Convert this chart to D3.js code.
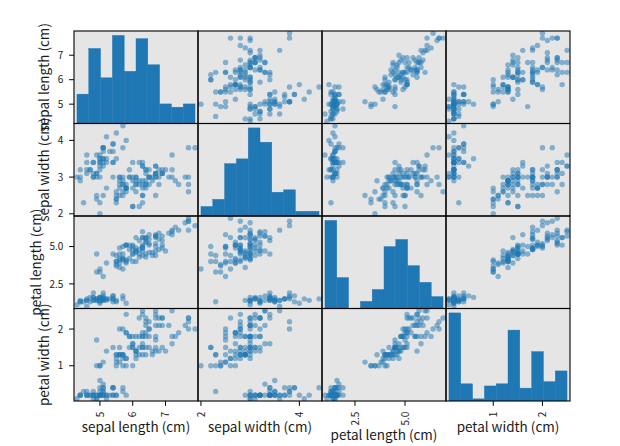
<!DOCTYPE html>
<html>
<head>
<meta charset="UTF-8">
<title>iris scatter matrix</title>
<style>
  body { margin: 0; background: #fff; }
  svg { display: block; }
  text { font-family: "Noto Sans CJK KR", "Noto Sans", sans-serif; fill: #1a1a1a; }
  .tick text { font-size: 10px; }
  .label { font-size: 13.5px; }
</style>
</head>
<body>
<svg width="620" height="446"></svg>
<script src="https://d3js.org/d3.v7.min.js"></script>
<script>
// iris (sklearn version), one array per column
const sepalLength = [
  5.1,4.9,4.7,4.6,5.0,5.4,4.6,5.0,4.4,4.9,5.4,4.8,4.8,4.3,5.8,5.7,5.4,5.1,5.7,5.1,
  5.4,5.1,4.6,5.1,4.8,5.0,5.0,5.2,5.2,4.7,4.8,5.4,5.2,5.5,4.9,5.0,5.5,4.9,4.4,5.1,
  5.0,4.5,4.4,5.0,5.1,4.8,5.1,4.6,5.3,5.0,
  7.0,6.4,6.9,5.5,6.5,5.7,6.3,4.9,6.6,5.2,5.0,5.9,6.0,6.1,5.6,6.7,5.6,5.8,6.2,5.6,
  5.9,6.1,6.3,6.1,6.4,6.6,6.8,6.7,6.0,5.7,5.5,5.5,5.8,6.0,5.4,6.0,6.7,6.3,5.6,5.5,
  5.5,6.1,5.8,5.0,5.6,5.7,5.7,6.2,5.1,5.7,
  6.3,5.8,7.1,6.3,6.5,7.6,4.9,7.3,6.7,7.2,6.5,6.4,6.8,5.7,5.8,6.4,6.5,7.7,7.7,6.0,
  6.9,5.6,7.7,6.3,6.7,7.2,6.2,6.1,6.4,7.2,7.4,7.9,6.4,6.3,6.1,7.7,6.3,6.4,6.0,6.9,
  6.7,6.9,5.8,6.8,6.7,6.7,6.3,6.5,6.2,5.9
];
const sepalWidth = [
  3.5,3.0,3.2,3.1,3.6,3.9,3.4,3.4,2.9,3.1,3.7,3.4,3.0,3.0,4.0,4.4,3.9,3.5,3.8,3.8,
  3.4,3.7,3.6,3.3,3.4,3.0,3.4,3.5,3.4,3.2,3.1,3.4,4.1,4.2,3.1,3.2,3.5,3.6,3.0,3.4,
  3.5,2.3,3.2,3.5,3.8,3.0,3.8,3.2,3.7,3.3,
  3.2,3.2,3.1,2.3,2.8,2.8,3.3,2.4,2.9,2.7,2.0,3.0,2.2,2.9,2.9,3.1,3.0,2.7,2.2,2.5,
  3.2,2.8,2.5,2.8,2.9,3.0,2.8,3.0,2.9,2.6,2.4,2.4,2.7,2.7,3.0,3.4,3.1,2.3,3.0,2.5,
  2.6,3.0,2.6,2.3,2.7,3.0,2.9,2.9,2.5,2.8,
  3.3,2.7,3.0,2.9,3.0,3.0,2.5,2.9,2.5,3.6,3.2,2.7,3.0,2.5,2.8,3.2,3.0,3.8,2.6,2.2,
  3.2,2.8,2.8,2.7,3.3,3.2,2.8,3.0,2.8,3.0,2.8,3.8,2.8,2.8,2.6,3.0,3.4,3.1,3.0,3.1,
  3.1,3.1,2.7,3.2,3.3,3.0,2.5,3.0,3.4,3.0
];
const petalLength = [
  1.4,1.4,1.3,1.5,1.4,1.7,1.4,1.5,1.4,1.5,1.5,1.6,1.4,1.1,1.2,1.5,1.3,1.4,1.7,1.5,
  1.7,1.5,1.0,1.7,1.9,1.6,1.6,1.5,1.4,1.6,1.6,1.5,1.5,1.4,1.5,1.2,1.3,1.4,1.3,1.5,
  1.3,1.3,1.3,1.6,1.9,1.4,1.6,1.4,1.5,1.4,
  4.7,4.5,4.9,4.0,4.6,4.5,4.7,3.3,4.6,3.9,3.5,4.2,4.0,4.7,3.6,4.4,4.5,4.1,4.5,3.9,
  4.8,4.0,4.9,4.7,4.3,4.4,4.8,5.0,4.5,3.5,3.8,3.7,3.9,5.1,4.5,4.5,4.7,4.4,4.1,4.0,
  4.4,4.6,4.0,3.3,4.2,4.2,4.2,4.3,3.0,4.1,
  6.0,5.1,5.9,5.6,5.8,6.6,4.5,6.3,5.8,6.1,5.1,5.3,5.5,5.0,5.1,5.3,5.5,6.7,6.9,5.0,
  5.7,4.9,6.7,4.9,5.7,6.0,4.8,4.9,5.6,5.8,6.1,6.4,5.6,5.1,5.6,6.1,5.6,5.5,4.8,5.4,
  5.6,5.1,5.1,5.9,5.7,5.2,5.0,5.2,5.4,5.1
];
const petalWidth = [
  0.2,0.2,0.2,0.2,0.2,0.4,0.3,0.2,0.2,0.1,0.2,0.2,0.1,0.1,0.2,0.4,0.4,0.3,0.3,0.3,
  0.2,0.4,0.2,0.5,0.2,0.2,0.4,0.2,0.2,0.2,0.2,0.4,0.1,0.2,0.2,0.2,0.2,0.1,0.2,0.2,
  0.3,0.3,0.2,0.6,0.4,0.3,0.2,0.2,0.2,0.2,
  1.4,1.5,1.5,1.3,1.5,1.3,1.6,1.0,1.3,1.4,1.0,1.5,1.0,1.4,1.3,1.4,1.5,1.0,1.5,1.1,
  1.8,1.3,1.5,1.2,1.3,1.4,1.4,1.7,1.5,1.0,1.1,1.0,1.2,1.6,1.5,1.6,1.5,1.3,1.3,1.3,
  1.2,1.4,1.2,1.0,1.3,1.2,1.3,1.3,1.1,1.3,
  2.5,1.9,2.1,1.8,2.2,2.1,1.7,1.8,1.8,2.5,2.0,1.9,2.1,2.0,2.4,2.3,1.8,2.2,2.3,1.5,
  2.3,2.0,2.0,1.8,2.1,1.8,1.8,1.8,2.1,1.6,1.9,2.0,2.2,1.5,1.4,2.3,2.4,1.8,1.8,2.1,
  2.4,2.3,1.9,2.3,2.5,2.3,1.9,2.0,2.3,1.8
];

const columns = ["sepal length (cm)", "sepal width (cm)", "petal length (cm)", "petal width (cm)"];
const values = [sepalLength, sepalWidth, petalLength, petalWidth];

// tick positions and labels, x (bottom row) and y (left column)
const xTicks = [[5, 6, 7], [2, 4], [2.5, 5.0], [1, 2]];
const xTickLabels = [["5", "6", "7"], ["2", "4"], ["2.5", "5.0"], ["1", "2"]];
const yTicks = [[5, 6, 7], [2, 3, 4], [2.5, 5.0], [1, 2]];
const yTickLabels = [["5", "6", "7"], ["2", "3", "4"], ["2.5", "5.0"], ["1", "2"]];

const blue = "#1f77b4";
const gridLeft = 74, gridRight = 570, gridTop = 31, gridBottom = 401;
const n = columns.length;
const cw = (gridRight - gridLeft) / n, ch = (gridBottom - gridTop) / n;

const svg = d3.select("svg");

// axis limits like pandas: 2.5% padding either side
const bounds = values.map(v => {
  const lo = d3.min(v), hi = d3.max(v), ext = (hi - lo) * 0.025;
  return [lo - ext, hi + ext];
});

// 10 equal bins like numpy.histogram
function histBins(v, nb) {
  const lo = d3.min(v), hi = d3.max(v), step = (hi - lo) / nb;
  const edges = d3.range(nb + 1).map(i => i * step + lo);
  edges[nb] = hi;
  const counts = new Array(nb).fill(0);
  v.forEach(d => {
    let k = d3.bisectRight(edges, d) - 1;
    if (k >= nb) k = nb - 1;
    counts[k]++;
  });
  return counts.map((c, k) => ({ x0: edges[k], x1: edges[k + 1], n: c }));
}

for (let i = 0; i < n; i++) {
  for (let j = 0; j < n; j++) {
    const x0 = gridLeft + j * cw, y0 = gridTop + i * ch;
    const x = d3.scaleLinear().domain(bounds[j]).range([x0, x0 + cw]);
    const g = svg.append("g");
    const clipId = "clip" + i + j;
    g.append("clipPath").attr("id", clipId)
      .append("rect").attr("x", x0).attr("y", y0).attr("width", cw).attr("height", ch);
    g.append("rect").attr("x", x0).attr("y", y0).attr("width", cw).attr("height", ch)
      .attr("fill", "#e5e5e5");
    const body = g.append("g").attr("clip-path", `url(#${clipId})`);

    if (i === j) {
      const bins = histBins(values[i], 10);
      const y = d3.scaleLinear().domain([0, d3.max(bins, b => b.n) * 1.05]).range([y0 + ch, y0]);
      body.selectAll("rect.bar").data(bins).join("rect")
        .attr("class", "bar")
        .attr("x", b => x(b.x0))
        .attr("width", b => x(b.x1) - x(b.x0))
        .attr("y", b => y(b.n))
        .attr("height", b => y(0) - y(b.n))
        .attr("fill", blue)
        .attr("stroke", blue)
        .attr("stroke-width", 0.4);
    } else {
      const y = d3.scaleLinear().domain(bounds[i]).range([y0 + ch, y0]);
      body.selectAll("circle").data(d3.range(values[0].length)).join("circle")
        .attr("cx", k => x(values[j][k]))
        .attr("cy", k => y(values[i][k]))
        .attr("r", 2.7)
        .attr("fill", blue)
        .attr("fill-opacity", 0.5);
    }
  }
}

// spines on top
for (let i = 0; i < n; i++) {
  for (let j = 0; j < n; j++) {
    svg.append("rect")
      .attr("x", gridLeft + j * cw).attr("y", gridTop + i * ch)
      .attr("width", cw).attr("height", ch)
      .attr("fill", "none").attr("stroke", "#000").attr("stroke-width", 1.1);
  }
}

// bottom row x axes
for (let j = 0; j < n; j++) {
  const x0 = gridLeft + j * cw;
  const x = d3.scaleLinear().domain(bounds[j]).range([x0, x0 + cw]);
  const ax = svg.append("g").attr("class", "tick");
  const t = ax.selectAll("g").data(xTicks[j]).join("g")
    .attr("transform", d => `translate(${x(d)},0)`);
  t.append("line").attr("y1", gridBottom).attr("y2", gridBottom + 4.9)
    .attr("stroke", "#000").attr("stroke-width", 1);
  const labels = t.append("text")
    .attr("transform", `translate(0,${gridBottom + 10.7}) rotate(-90)`)
    .attr("text-anchor", "end")
    .attr("dy", "0.36em")
    .text((d, k) => xTickLabels[j][k]);
  let maxLen = 0;
  labels.each(function() { maxLen = Math.max(maxLen, this.getComputedTextLength()); });
  svg.append("text").attr("class", "label")
    .attr("x", x0 + cw / 2)
    .attr("y", gridBottom + 10.7 + maxLen + 14.5)
    .attr("text-anchor", "middle")
    .text(columns[j]);
}

// left column y axes
for (let i = 0; i < n; i++) {
  const y0 = gridTop + i * ch;
  const y = d3.scaleLinear().domain(bounds[i]).range([y0 + ch, y0]);
  const ax = svg.append("g").attr("class", "tick");
  const t = ax.selectAll("g").data(yTicks[i]).join("g")
    .attr("transform", d => `translate(0,${y(d)})`);
  t.append("line").attr("x1", gridLeft - 4.9).attr("x2", gridLeft)
    .attr("stroke", "#000").attr("stroke-width", 1);
  const labels = t.append("text")
    .attr("x", gridLeft - 10.7)
    .attr("dy", "0.36em")
    .attr("text-anchor", "end")
    .text((d, k) => yTickLabels[i][k]);
  let maxLen = 0;
  labels.each(function() { maxLen = Math.max(maxLen, this.getComputedTextLength()); });
  const bx = gridLeft - 10.7 - maxLen - 8.5;
  svg.append("text").attr("class", "label")
    .attr("transform", `translate(${bx},${y0 + ch / 2}) rotate(-90)`)
    .attr("text-anchor", "middle")
    .text(columns[i]);
}
</script>
</body>
</html>
